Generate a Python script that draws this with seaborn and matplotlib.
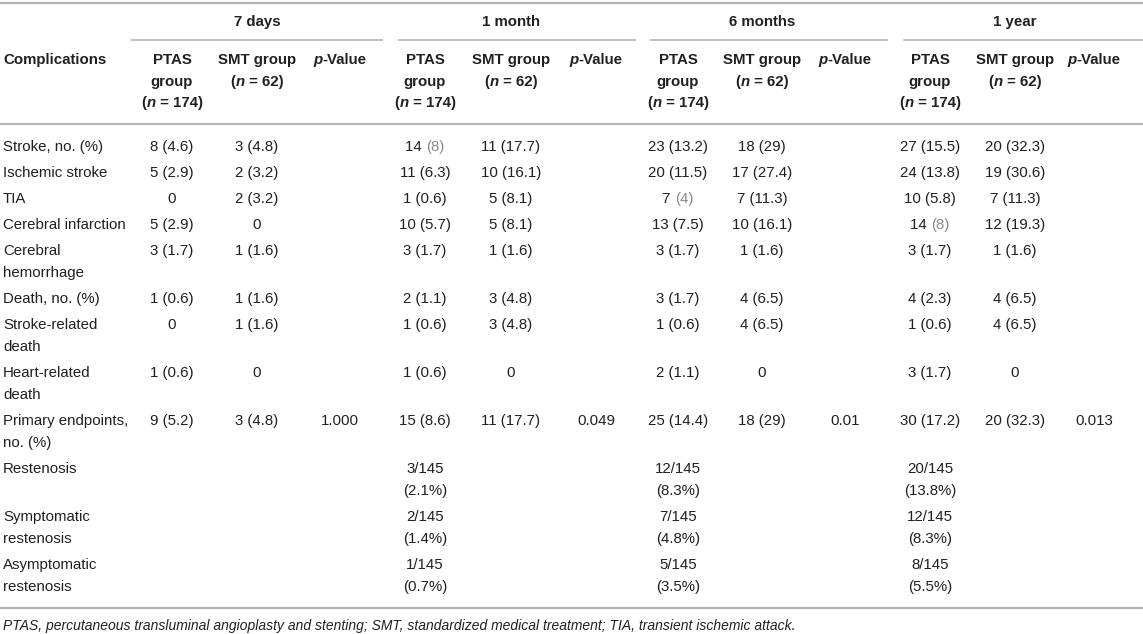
import matplotlib
matplotlib.use("Agg")
import matplotlib.pyplot as plt
import seaborn as sns
from matplotlib.offsetbox import TextArea, HPacker, AnnotationBbox

# ---- table content ----
periods = ["7 days", "1 month", "6 months", "1 year"]
complications = ["Stroke, no. (%)", "Ischemic stroke", "TIA", "Cerebral infarction",
                 "Cerebral\nhemorrhage", "Death, no. (%)", "Stroke-related\ndeath",
                 "Heart-related\ndeath", "Primary endpoints,\nno. (%)", "Restenosis",
                 "Symptomatic\nrestenosis", "Asymptomatic\nrestenosis"]

ptas_7d = ["8 (4.6)", "5 (2.9)", "0", "5 (2.9)", "3 (1.7)", "1 (0.6)", "0", "1 (0.6)", "9 (5.2)", "", "", ""]
smt_7d = ["3 (4.8)", "2 (3.2)", "2 (3.2)", "0", "1 (1.6)", "1 (1.6)", "1 (1.6)", "0", "3 (4.8)", "", "", ""]
p_7d = ["", "", "", "", "", "", "", "", "1.000", "", "", ""]

ptas_1m = ["14 (8)", "11 (6.3)", "1 (0.6)", "10 (5.7)", "3 (1.7)", "2 (1.1)", "1 (0.6)", "1 (0.6)", "15 (8.6)",
           "3/145\n(2.1%)", "2/145\n(1.4%)", "1/145\n(0.7%)"]
smt_1m = ["11 (17.7)", "10 (16.1)", "5 (8.1)", "5 (8.1)", "1 (1.6)", "3 (4.8)", "3 (4.8)", "0", "11 (17.7)", "", "", ""]
p_1m = ["", "", "", "", "", "", "", "", "0.049", "", "", ""]

ptas_6m = ["23 (13.2)", "20 (11.5)", "7 (4)", "13 (7.5)", "3 (1.7)", "3 (1.7)", "1 (0.6)", "2 (1.1)", "25 (14.4)",
           "12/145\n(8.3%)", "7/145\n(4.8%)", "5/145\n(3.5%)"]
smt_6m = ["18 (29)", "17 (27.4)", "7 (11.3)", "10 (16.1)", "1 (1.6)", "4 (6.5)", "4 (6.5)", "0", "18 (29)", "", "", ""]
p_6m = ["", "", "", "", "", "", "", "", "0.01", "", "", ""]

ptas_1y = ["27 (15.5)", "24 (13.8)", "10 (5.8)", "14 (8)", "3 (1.7)", "4 (2.3)", "1 (0.6)", "3 (1.7)", "30 (17.2)",
           "20/145\n(13.8%)", "12/145\n(8.3%)", "8/145\n(5.5%)"]
smt_1y = ["20 (32.3)", "19 (30.6)", "7 (11.3)", "12 (19.3)", "1 (1.6)", "4 (6.5)", "4 (6.5)", "0", "20 (32.3)", "", "", ""]
p_1y = ["", "", "", "", "", "", "", "", "0.013", "", "", ""]

# cells whose percentage is printed in grey in the source: (period index, row index)
grey_cells = [(1, 0), (2, 2), (3, 3)]

footnote = ("PTAS, percutaneous transluminal angioplasty and stenting; SMT, standardized medical "
            "treatment; TIA, transient ischemic attack.")

ptas_cols = [ptas_7d, ptas_1m, ptas_6m, ptas_1y]
smt_cols = [smt_7d, smt_1m, smt_6m, smt_1y]
p_cols = [p_7d, p_1m, p_6m, p_1y]

# ---- layout (pixels) ----
W, H = 1143, 634
ptas_x = [172, 425, 678, 930]
smt_x = [257, 511, 762, 1015]
p_x = [340, 596, 845, 1094]
group_span = [(131, 383), (398, 636), (650, 888), (903, 1143)]
row0, row_h, line_h = 147, 26, 22

INK = "#231f20"
GREY = "#8a8a8a"
RULE = "#b5b5b5"
FS = 10.8

sns.set_theme(style="white")
plt.rcParams["font.family"] = ["Liberation Sans", "DejaVu Sans"]

fig = plt.figure(figsize=(W / 100, H / 100), dpi=100)
ax = fig.add_axes([0, 0, 1, 1])
ax.set_xlim(0, W)
ax.set_ylim(H, 0)
ax.axis("off")


def put(x, y, parts, ha="center"):
    boxes = []
    for s, kw in parts:
        props = {"color": INK, "fontsize": FS}
        props.update(kw)
        boxes.append(TextArea(s, textprops=props))
    pack = HPacker(children=boxes, align="baseline", pad=0, sep=0)
    ab = AnnotationBbox(pack, (x, y), xycoords="data", frameon=False, pad=0,
                        box_alignment=(0.5 if ha == "center" else 0.0, 0.5))
    ax.add_artist(ab)


def cell(x, y, text, grey=False, ha="center"):
    for k, line in enumerate(text.split("\n")):
        if grey and " (" in line:
            a, b = line.split(" (", 1)
            put(x, y + k * line_h, [(a + "\u00a0", {}), ("(" + b, {"color": GREY})], ha)
        elif line:
            put(x, y + k * line_h, [(line, {})], ha)


B = {"fontweight": "bold"}
BI = {"fontweight": "bold", "fontstyle": "italic"}

# rules
ax.hlines([3, 124, 608], 0, W, color=RULE, lw=1.6)
for x0, x1 in group_span:
    ax.hlines(40, x0, x1, color=RULE, lw=1.2)

# header
put(3, 60, [("Complications", B)], ha="left")
for i, name in enumerate(periods):
    put(smt_x[i], 22, [(name, B)])
    put(ptas_x[i], 60, [("PTAS", B)])
    put(ptas_x[i], 82, [("group", B)])
    put(ptas_x[i], 103, [("(", B), ("n", BI), ("\u00a0=\u00a0174)", B)])
    put(smt_x[i], 60, [("SMT group", B)])
    put(smt_x[i], 82, [("(", B), ("n", BI), ("\u00a0=\u00a062)", B)])
    put(p_x[i], 60, [("p", BI), ("-Value", B)])

# body
y = row0
for r, label in enumerate(complications):
    cols = [ptas_cols, smt_cols, p_cols]
    nlines = max([label.count("\n") + 1] +
                 [c[i][r].count("\n") + 1 for c in cols for i in range(len(periods))])
    cell(3, y, label, ha="left")
    for i in range(len(periods)):
        cell(ptas_x[i], y, ptas_cols[i][r], grey=(i, r) in grey_cells)
        cell(smt_x[i], y, smt_cols[i][r])
        cell(p_x[i], y, p_cols[i][r])
    y += row_h + line_h * (nlines - 1)

put(3, 626, [(footnote, {"fontstyle": "italic", "fontsize": 10})], ha="left")

fig.savefig("out.png", dpi=100, facecolor="white")
